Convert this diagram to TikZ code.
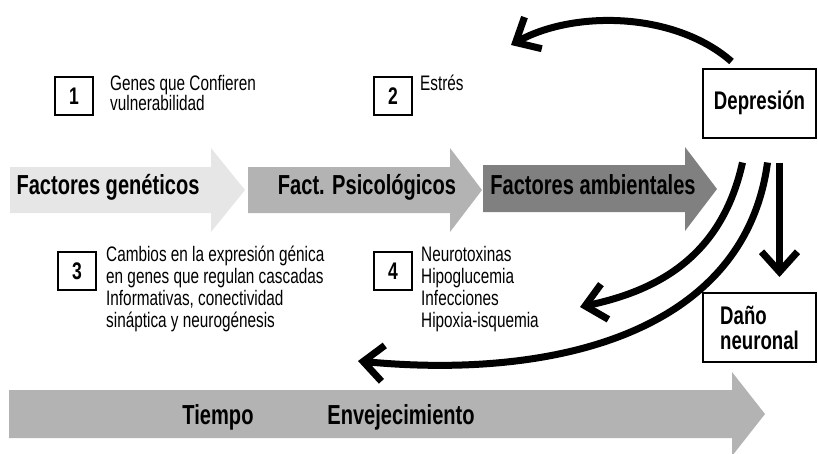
\documentclass[tikz,border=0pt]{standalone}
\usepackage{fontspec}
\setmainfont{Liberation Sans}[FakeStretch=0.73]
\usepackage{tikz}
\usetikzlibrary{arrows.meta}
\definecolor{genclr}{HTML}{E6E6E6}
\definecolor{psiclr}{HTML}{B3B3B3}
\definecolor{ambclr}{HTML}{808080}
\tikzset{
  numbox/.style={draw=black, line width=2.2pt, minimum width=38pt, minimum height=38pt, inner sep=0pt, font=\fontsize{24}{24}\selectfont\bfseries},
  txtblock/.style={anchor=north west, align=left, inner sep=0pt, font=\fontsize{21}{22}\selectfont},
  labbox/.style={draw=black, line width=2pt, minimum width=113pt, minimum height=69pt, inner sep=0pt, align=left, font=\fontsize{25.5}{25}\selectfont\bfseries},
  arrlabel/.style={anchor=base, inner sep=0pt, font=\fontsize{27.5}{30}\selectfont\bfseries},
  curvarr/.style={line width=7pt, -{Straight Barb[length=20pt, width=36pt]}},
}

\begin{document}
\begin{tikzpicture}[x=1pt, y=-1pt]
\useasboundingbox (0,0) rectangle (818,453);

\fill[genclr] (10,167) -- (211,167) -- (211,148) -- (245,190) -- (211,232) -- (211,213) -- (10,213) -- cycle;
\fill[psiclr] (248,167) -- (450,167) -- (450,148) -- (482,190) -- (450,232) -- (450,213) -- (248,213) -- cycle;
\fill[ambclr] (483,165) -- (685,165) -- (685,147) -- (717,189) -- (685,231) -- (685,212) -- (483,212) -- cycle;
\fill[psiclr] (9,390) -- (732,390) -- (732,372) -- (765,414) -- (732,456) -- (732,438) -- (9,438) -- cycle;

\node[arrlabel] (gen) at (108,194) {Factores genéticos};
\node[arrlabel] (psi) at (367,194) {Fact. Psicológicos};
\node[arrlabel] (amb) at (593,194) {Factores ambientales};
\node[arrlabel] (tie) at (218,424) {Tiempo};
\node[arrlabel] (env) at (401,424) {Envejecimiento};

\node[numbox] (n1) at (74,96) {1};
\node[numbox] (n2) at (393,96) {2};
\node[numbox] (n3) at (77,271) {3};
\node[numbox] (n4) at (393,271) {4};

\node[txtblock, font=\fontsize{21}{18}\selectfont] (t1) at (110,75) {Genes que Confieren\\vulnerabilidad};
\node[txtblock] (t2) at (420,75) {Estrés};
\node[txtblock] (t3) at (106,246) {Cambios en la expresión génica\\en genes que regulan cascadas\\Informativas, conectividad\\sináptica y neurogénesis};
\node[txtblock] (t4) at (421,246) {Neurotoxinas\\Hipoglucemia\\Infecciones\\Hipoxia-isquemia};

\node[labbox, align=center] (dep) at (759.5,103) {Depresión};
\node[labbox] (dano) at (759.5,327.5) {Daño\\neuronal};

\coordinate (e1) at (511,45);
\coordinate (e2) at (580,307);
\coordinate (e3) at (358,361);
\draw[curvarr] ([xshift=-28pt, yshift=6pt]dep.north) .. controls (675,12) and (575,10) .. (e1);
\draw[curvarr] ([xshift=-17pt, yshift=-24pt]dep.south) .. controls (722,255) and (660,290) .. (e2);
\draw[curvarr] ([xshift=8pt, yshift=-24pt]dep.south) .. controls (745,330) and (560,380) .. (e3);
\draw[curvarr] ([xshift=20pt, yshift=-24pt]dep.south) -- ([xshift=20pt, yshift=15pt]dano.north);
\end{tikzpicture}
\end{document}
